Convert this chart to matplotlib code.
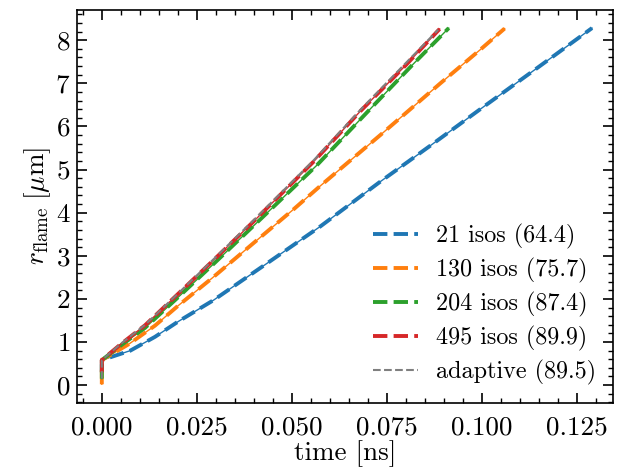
import numpy as np
import matplotlib
matplotlib.use("Agg")
import matplotlib.pyplot as plt

plt.rcParams['font.family'] = ['cmr10', 'DejaVu Serif']
plt.rcParams['mathtext.fontset'] = 'cm'
plt.rcParams['axes.formatter.use_mathtext'] = True
plt.rcParams['font.size'] = 19.5

# flame radius [um] vs time [ns]
t_21 = [0, 0, 0.0075, 0.0140, 0.0202, 0.0294, 0.0439, 0.0575, 0.0733, 0.0864, 0.0996, 0.1145, 0.1290]
r_21 = [0.30, 0.58, 0.80, 1.12, 1.48, 1.97, 2.85, 3.68, 4.72, 5.55, 6.40, 7.35, 8.28]

t_130 = [0, 0, 0.0071, 0.0140, 0.0202, 0.0290, 0.0400, 0.0505, 0.0575, 0.0733, 0.0891, 0.0996, 0.1060]
r_130 = [0.02, 0.58, 0.95, 1.38, 1.85, 2.48, 3.30, 4.08, 4.62, 5.80, 7.00, 7.78, 8.27]

t_204 = [0, 0, 0.0050, 0.0114, 0.0206, 0.0300, 0.0400, 0.0566, 0.0680, 0.0733, 0.0820, 0.0913]
r_204 = [0.15, 0.58, 0.92, 1.33, 2.08, 2.86, 3.70, 5.10, 6.16, 6.65, 7.45, 8.28]

t_495 = [0, 0, 0.0050, 0.0114, 0.0206, 0.0300, 0.0400, 0.0557, 0.0680, 0.0800, 0.0889]
r_495 = [0.30, 0.58, 0.95, 1.39, 2.16, 2.95, 3.80, 5.18, 6.35, 7.42, 8.26]

t_adapt = [0, 0, 0.0050, 0.0114, 0.0206, 0.0300, 0.0400, 0.0557, 0.0680, 0.0800, 0.0885]
r_adapt = [0.15, 0.58, 0.96, 1.40, 2.17, 2.97, 3.83, 5.21, 6.38, 7.47, 8.24]

labels = ['21 isos (64.4)', '130 isos (75.7)', '204 isos (87.4)', '495 isos (89.9)']
colors = ['#1f77b4', '#ff7f0e', '#2ca02c', '#d62728']


def draw_graph():
    fig = plt.figure(figsize=(6.17, 4.75), dpi=100)
    ax = fig.add_axes([0.1256, 0.152, 0.994 - 0.1256, 0.979 - 0.152])

    series = [(t_21, r_21), (t_130, r_130), (t_204, r_204), (t_495, r_495)]
    for (t, r), lab, c in zip(series, labels, colors):
        ax.plot(t, r, '-', color=c, lw=1.0)
        ax.plot(t, r, '--', color=c, lw=2.8, label=lab)
    ax.plot(t_adapt, r_adapt, '--', color='#7f7f7f', lw=1.5, label='adaptive (89.5)')

    ax.set_xlim(-0.0064, 0.1346)
    ax.set_ylim(-0.41, 8.70)
    ax.set_xticks([0, 0.025, 0.05, 0.075, 0.1, 0.125])
    ax.set_xticklabels(['0.000', '0.025', '0.050', '0.075', '0.100', '0.125'])
    ax.set_yticks(range(0, 9))
    ax.xaxis.set_minor_locator(matplotlib.ticker.MultipleLocator(0.005))
    ax.yaxis.set_minor_locator(matplotlib.ticker.MultipleLocator(0.2))
    ax.tick_params(which='both', direction='in', top=True, right=True)
    ax.tick_params(axis='x', which='both', pad=9)
    ax.tick_params(axis='y', which='both', pad=5)
    ax.tick_params(which='major', length=7, width=1.2)
    ax.tick_params(which='minor', length=3.5, width=1.0)
    for s in ax.spines.values():
        s.set_linewidth(1.2)

    ax.set_xlabel('time [ns]', labelpad=1)
    ax.set_ylabel(r'$r_{\mathrm{flame}}\;[\mu\mathrm{m}]$', labelpad=2)
    ax.legend(loc='lower right', frameon=False, fontsize=17.4, labelspacing=0.37,
              handlelength=1.86, handletextpad=0.74, borderaxespad=0.33)
    fig.savefig('out.png', dpi=100)


if __name__ == "__main__":
    draw_graph()
